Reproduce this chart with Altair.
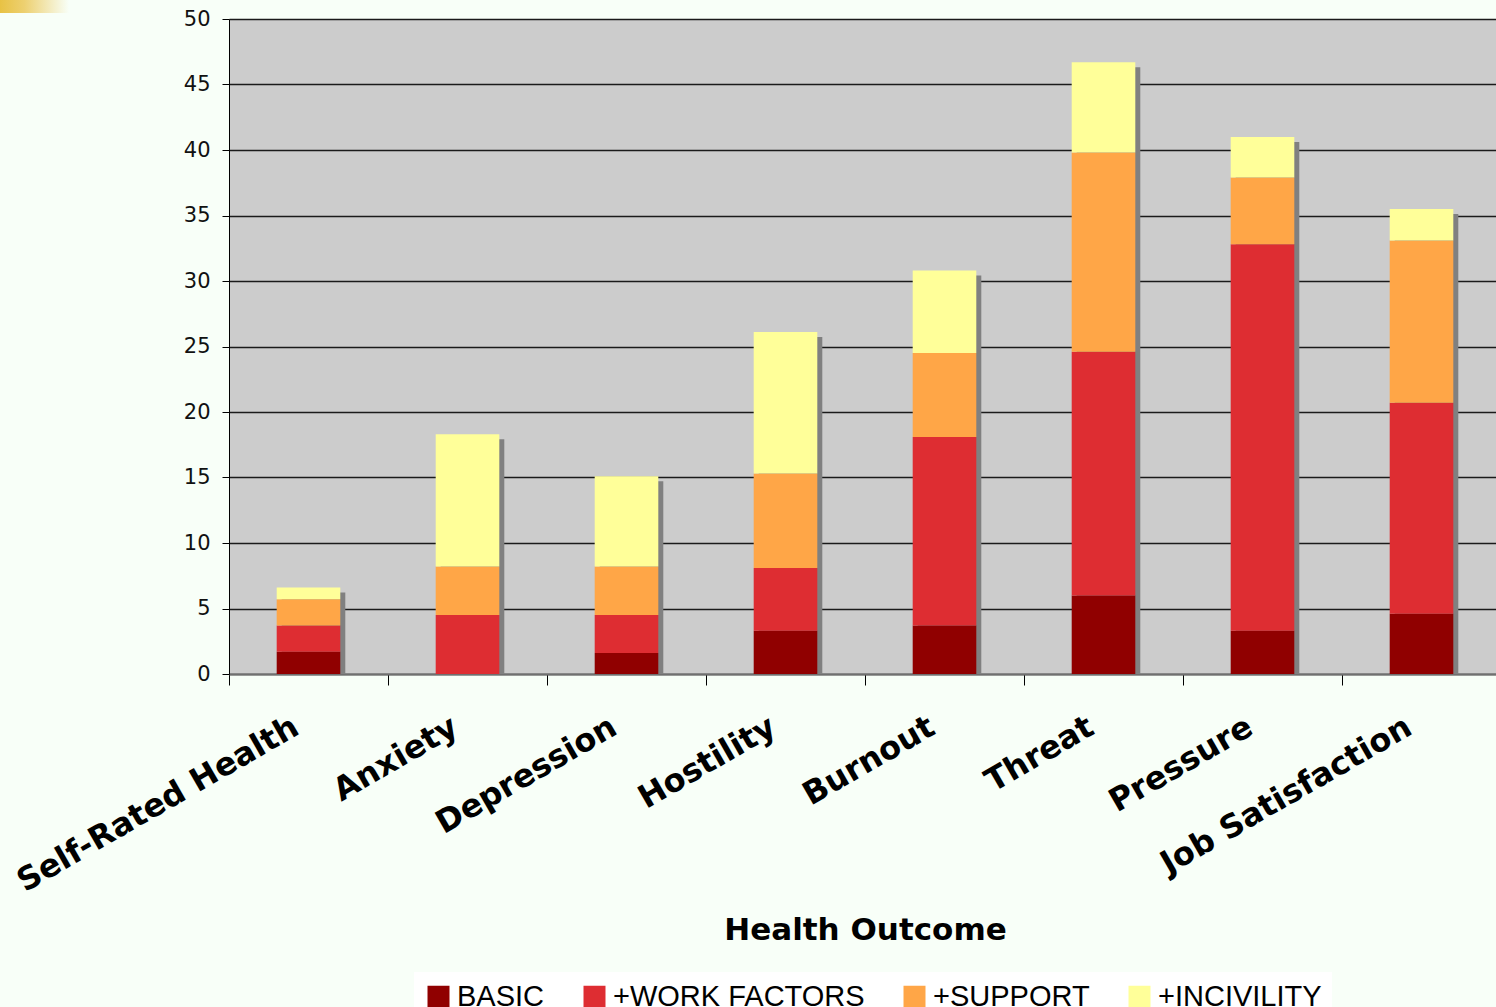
import altair as alt
import pandas as pd

# Health outcomes (x categories)
outcomes = [
    "Self-Rated Health", "Anxiety", "Depression", "Hostility",
    "Burnout", "Threat", "Pressure", "Job Satisfaction",
]

# Increment added by each model block (stacked segments)
basic = [1.7, 0.0, 1.6, 3.3, 3.7, 6.0, 3.3, 4.6]
work_factors = [2.0, 4.5, 2.9, 4.8, 14.4, 18.6, 29.5, 16.1]
support = [2.0, 3.7, 3.7, 7.2, 6.4, 15.2, 5.1, 12.4]
incivility = [0.9, 10.1, 6.9, 10.8, 6.3, 6.9, 3.1, 2.4]

series_names = ["BASIC", "+WORK FACTORS", "+SUPPORT", "+INCIVILITY"]
series_colors = ["#900000", "#DE2D32", "#FFA647", "#FFFF99"]
y_ticks = [0, 5, 10, 15, 20, 25, 30, 35, 40, 45, 50]

rows = []
for k, (name, vals) in enumerate(zip(series_names, [basic, work_factors, support, incivility])):
    for outcome, v in zip(outcomes, vals):
        rows.append({"outcome": outcome, "series": name, "order": k, "value": v})
df = pd.DataFrame(rows)

BG = "#F8FFF8"

# the category axis runs a little past the right edge of the page
x_enc = alt.X(
    "outcome:N",
    sort=outcomes,
    scale=alt.Scale(paddingInner=0, paddingOuter=0, range=[0, 1272]),
    axis=alt.Axis(
        title="Health Outcome",
        titleFont="DejaVu Sans",
        titleFontSize=31,
        titleFontWeight="bold",
        titleColor="black",
        titleX=636,
        titleY=265,
        titleAlign="center",
        titleBaseline="alphabetic",
        bandPosition=0,
        labelOffset=-20,
        labelAngle=-30,
        labelAlign="right",
        labelBaseline="top",
        labelPadding=26,
        labelFont="DejaVu Sans",
        labelFontSize=32,
        labelFontWeight="bold",
        labelColor="black",
        labelOverlap=False,
        labelFlush=False,
        labelBound=False,
        labelLimit=600,
        tickColor="black",
        tickSize=11,
        tickWidth=1,
        domainColor="#707070",
        domainWidth=2,
        grid=False,
    ),
)

y_scale = alt.Scale(domain=[0, 50], nice=False)
y_axis = alt.Axis(
    title=None,
    values=y_ticks,
    grid=True,
    gridColor="#1a1a1a",
    gridWidth=1.5,
    domainColor="black",
    domainWidth=1,
    tickColor="black",
    tickSize=7,
    labelPadding=12,
    labelFont="DejaVu Sans",
    labelFontSize=21,
    labelColor="#111111",
)

# drop shadow behind each bar, drawn from the stacked totals
shadow = (
    alt.Chart(df)
    .transform_aggregate(total="sum(value)", groupby=["outcome"])
    .mark_bar(
        color="#808080",
        xOffset=5,
        x2Offset=5,
        yOffset=5,
        clip=True,
        width=alt.RelativeBandSize(0.4),
    )
    .encode(x=x_enc, y=alt.Y("total:Q", scale=y_scale, axis=y_axis))
)

bars = (
    alt.Chart(df)
    .mark_bar(width=alt.RelativeBandSize(0.4))
    .encode(
        x=x_enc,
        y=alt.Y("value:Q", stack="zero", scale=y_scale, axis=y_axis),
        color=alt.Color(
            "series:N",
            scale=alt.Scale(domain=series_names, range=series_colors),
            legend=alt.Legend(
                title=None,
                orient="none",
                legendX=185,
                legendY=953,
                direction="horizontal",
                columns=4,
                symbolType="square",
                symbolSize=484,
                symbolStrokeWidth=0,
                symbolOpacity=1,
                labelFont="Liberation Sans",
                labelFontSize=29,
                labelColor="black",
                labelOffset=4,
                labelLimit=500,
                columnPadding=35,
                fillColor="white",
                padding=10,
            ),
        ),
        order=alt.Order("order:Q", sort="ascending"),
    )
)

# gold corner accent
accent = (
    alt.Chart(pd.DataFrame({"a": [0]}))
    .mark_rect(
        fill=alt.Gradient(
            gradient="linear",
            stops=[
                alt.GradientStop(color="#E8C244", offset=0),
                alt.GradientStop(color="#EDD070", offset=0.35),
                alt.GradientStop(color=BG, offset=1),
            ],
            x1=0, x2=1, y1=0, y2=0,
        )
    )
    .encode(x=alt.value(-229), x2=alt.value(-160), y=alt.value(-19), y2=alt.value(-6))
)

chart = (
    alt.layer(shadow, bars, accent)
    .properties(
        width=1267,
        height=655,
        autosize=alt.AutoSizeParams(type="none"),
        padding={"left": 229, "top": 19, "right": 0, "bottom": 333},
    )
    .configure(background=BG)
    .configure_view(fill="#CCCCCC", strokeWidth=0)
)

chart.save("out.html", embed_options={"renderer": "svg", "actions": False})
